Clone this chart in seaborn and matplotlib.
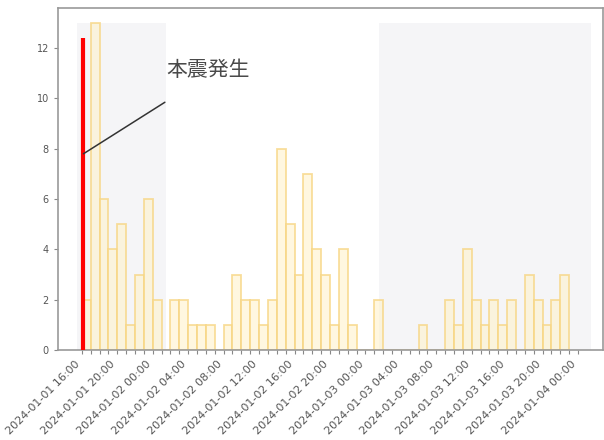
import numpy as np
import pandas as pd
import seaborn as sns
import matplotlib
matplotlib.use("Agg")
import matplotlib.pyplot as plt
import matplotlib.dates as mdates

# hourly counts starting 2024-01-01 16:00
start = "2024-01-01 16:00"
counts = [2, 13, 6, 4, 5, 1, 3, 6, 2, 0,
          2, 2, 1, 1, 1, 0, 1, 3, 2, 2,
          1, 2, 8, 5, 3, 7, 4, 3, 1, 4,
          1, 0, 0, 2, 0, 0, 0, 0, 1, 0,
          0, 2, 1, 4, 2, 1, 2, 1, 2, 0,
          3, 2, 1, 2, 3]
mainshock = "2024-01-01 16:10"
mainshock_height = 12.4
shade_spans = [("2024-01-01 15:30", "2024-01-02 01:30"),
               ("2024-01-03 01:30", "2024-01-04 01:30")]
tick_labels = ["2024-01-01 16:00", "2024-01-01 20:00", "2024-01-02 00:00",
               "2024-01-02 04:00", "2024-01-02 08:00", "2024-01-02 12:00",
               "2024-01-02 16:00", "2024-01-02 20:00", "2024-01-03 00:00",
               "2024-01-03 04:00", "2024-01-03 08:00", "2024-01-03 12:00",
               "2024-01-03 16:00", "2024-01-03 20:00", "2024-01-04 00:00"]

times = pd.date_range(start, periods=len(counts), freq="h")
df = pd.DataFrame({"time": times, "count": counts})
edges = mdates.date2num(pd.date_range(start, periods=len(counts) + 1, freq="h"))

sns.set_style("ticks")
plt.rcParams["font.family"] = ["DejaVu Sans", "Noto Sans CJK JP"]

fig = plt.figure(figsize=(6.04, 4.40), dpi=100)
ax = fig.add_axes([0.096, 0.2045, 0.902, 0.7775])

# shaded periods
for a, b in shade_spans:
    a, b = pd.Timestamp(a), pd.Timestamp(b)
    ax.bar(a, max(counts), width=(b - a), align="edge",
           color="#f5f5f7", edgecolor="none", zorder=0)

n_before = len(ax.patches)
sns.histplot(data=df, x="time", weights="count", binwidth=1 / 24,
             binrange=(edges[0], edges[-1] - 1e-6), ax=ax,
             element="bars", fill=True, zorder=2)
for p in ax.patches[n_before:]:
    p.set_facecolor((1.0, 0.95, 0.80, 0.6))
    p.set_edgecolor((0.97, 0.84, 0.52, 0.8))
    p.set_linewidth(1.3)

ms = pd.Timestamp(mainshock)
ax.vlines(ms, 0, mainshock_height, color="red", lw=3, zorder=4)

# annotation
ax.plot([ms, pd.Timestamp("2024-01-02 01:22")], [7.8, 9.85],
        color="#333333", lw=1.1, zorder=5)
ax.text(pd.Timestamp("2024-01-02 01:35"), 11.15, "本震発生",
        fontsize=15, color="#4a4a4a", va="center", ha="left",
        family=["Noto Sans CJK JP", "DejaVu Sans"])

ax.set_xlim(pd.Timestamp("2024-01-01 13:18"), pd.Timestamp("2024-01-04 02:48"))
ax.set_ylim(0, 13.6)

hour_ticks = pd.date_range(start, "2024-01-04 00:00", freq="h")
ax.set_xticks(hour_ticks)
labels = []
j = 0
for i in range(len(hour_ticks)):
    if i % 4 == 0:
        labels.append(tick_labels[j])
        j += 1
    else:
        labels.append("")
ax.set_xticklabels(labels, rotation=45, ha="right", fontsize=8, color="#555555")
ax.set_yticks(np.arange(0, 13, 2))
ax.tick_params(axis="y", labelsize=7, labelcolor="#555555", length=3, color="#888888")
ax.tick_params(axis="x", length=3, color="#888888")
ax.set_xlabel("")
ax.set_ylabel("")
for s in ax.spines.values():
    s.set_color("#999999")
    s.set_linewidth(1.2)

fig.savefig("out.png", dpi=100)
